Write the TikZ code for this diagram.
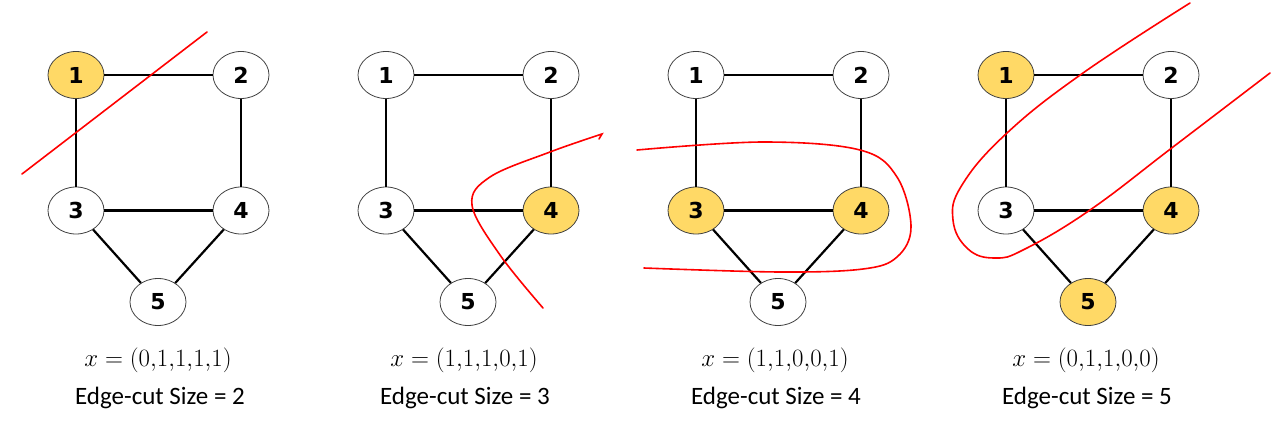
\documentclass[tikz,border=0pt]{standalone}
\usepackage{fontspec}
\setmainfont{Carlito}
\newfontfamily\nodefont{DejaVu Sans}
\usetikzlibrary{shapes.geometric}
\definecolor{yellowsel}{HTML}{FFD966}
\tikzset{
  vtx/.style={ellipse, draw=black!75, line width=0.8pt, fill=white, minimum width=56pt, minimum height=47pt, inner sep=0pt, font=\nodefont\bfseries\fontsize{22}{24}\selectfont},
  sel/.style={fill=yellowsel},
  edge/.style={line width=2.2pt, black},
  cut/.style={line width=1.6pt, red, line cap=round},
  lbl/.style={font=\fontsize{25}{30}\selectfont, align=center},
  mlbl/.style={font=\fontsize{27}{30}\selectfont, align=center}
}
\newcommand\mygraph[7]{%
  \node[vtx,#3] (#1-1) at (#2+76,75) {1};
  \node[vtx,#4] (#1-2) at (#2+241,75) {2};
  \node[vtx,#5] (#1-3) at (#2+76,210.5) {3};
  \node[vtx,#6] (#1-4) at (#2+241,210.5) {4};
  \node[vtx,#7] (#1-5) at (#2+158,302) {5};
  \draw[edge] (#1-1) -- (#1-2);
  \draw[edge] (#1-1) -- (#1-3);
  \draw[edge] (#1-2) -- (#1-4);
  \draw[edge] (#1-3) -- (#1-4);
  \draw[edge] (#1-3) -- (#1-5);
  \draw[edge] (#1-4) -- (#1-5);
}
\begin{document}
\begin{tikzpicture}[x=1pt,y=-1pt]
\useasboundingbox (0,0) rectangle (1285,434);
\mygraph{a}{0}{sel}{}{}{}{}
\mygraph{b}{310}{}{}{}{sel}{}
\mygraph{c}{620}{}{}{sel}{sel}{}
\mygraph{d}{930}{sel}{}{}{sel}{sel}
% labels
\node[mlbl] (la) at (158,360) {$x=(0{,}1{,}1{,}1{,}1)$};
\node[lbl] (ta) at (160,398) {Edge-cut Size = 2};
\node[mlbl] (lb) at (464,360) {$x=(1{,}1{,}1{,}0{,}1)$};
\node[lbl] (tb) at (465,398) {Edge-cut Size = 3};
\node[mlbl] (lc) at (775,360) {$x=(1{,}1{,}0{,}0{,}1)$};
\node[lbl] (tc) at (776,398) {Edge-cut Size = 4};
\node[mlbl] (ld) at (1086,360) {$x=(0{,}1{,}1{,}0{,}0)$};
\node[lbl] (td) at (1087,398) {Edge-cut Size = 5};
% cuts
\draw[cut] (22,174) -- (207,32);
\draw[cut] plot[smooth, tension=0.6] coordinates {(543,308) (500,255) (472,205) (490,177) (550,152) (602,134)} -- (599,139);
\draw[cut] plot[smooth, tension=0.6] coordinates {(637,150) (763,142) (860,150) (897,177) (911,227) (897,257) (863,269) (780,272) (644,268)};
\draw[cut] plot[smooth, tension=0.7] coordinates {(1190,3) (1083,73) (1007,133) (962,185) (953,220) (968,249) (995,258) (1025,249) (1090,210) (1173,147) (1270,73)};
\end{tikzpicture}
\end{document}
